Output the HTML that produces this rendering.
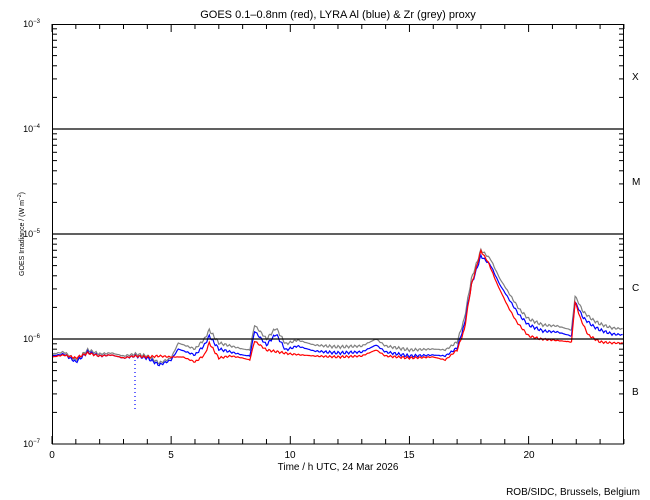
<!DOCTYPE html>
<html><head><style>body{margin:0;background:#fff}svg{display:block}text{font-family:"Liberation Sans",sans-serif;fill:#000}</style></head>
<body>
<svg id="s" width="650" height="500" xmlns="http://www.w3.org/2000/svg">
<rect width="650" height="500" fill="#fff"/>
<text x="338" y="18" font-size="11" text-anchor="middle">GOES 0.1–0.8nm (red), LYRA Al (blue) &amp; Zr (grey) proxy</text>
<g id="ax" stroke="#000" stroke-width="1" fill="none"></g>
<g id="data" fill="none" stroke-width="1.2"></g>
<rect x="52.5" y="24.5" width="571" height="419.5" fill="none" stroke="#000"/>
<line x1="52" y1="129" x2="624" y2="129" stroke="#000" stroke-width="1.3"/>
<line x1="52" y1="234" x2="624" y2="234" stroke="#000" stroke-width="1.3"/>
<line x1="52" y1="339" x2="624" y2="339" stroke="#000" stroke-width="1.3"/>
<g font-size="9">
<text x="40" y="27" text-anchor="end">10<tspan font-size="6" dy="-4">−3</tspan></text>
<text x="40" y="132" text-anchor="end">10<tspan font-size="6" dy="-4">−4</tspan></text>
<text x="40" y="237" text-anchor="end">10<tspan font-size="6" dy="-4">−5</tspan></text>
<text x="40" y="342" text-anchor="end">10<tspan font-size="6" dy="-4">−6</tspan></text>
<text x="40" y="447" text-anchor="end">10<tspan font-size="6" dy="-4">−7</tspan></text>
</g>
<g font-size="10">
<text x="632" y="80">X</text><text x="632" y="185">M</text><text x="632" y="291">C</text><text x="632" y="395">B</text>
<text x="52" y="458" text-anchor="middle">0</text><text x="171" y="458" text-anchor="middle">5</text>
<text x="290" y="458" text-anchor="middle">10</text><text x="409" y="458" text-anchor="middle">15</text>
<text x="529" y="458" text-anchor="middle">20</text>
<text x="338" y="470" text-anchor="middle">Time / h UTC, 24 Mar 2026</text>
<text x="640" y="495" text-anchor="end">ROB/SIDC, Brussels, Belgium</text>
</g>
<text transform="translate(24,234) rotate(-90)" font-size="7" text-anchor="middle">GOES Irradiance / (W m<tspan font-size="5" dy="-3">−2</tspan><tspan dy="3">)</tspan></text>
</svg>
<script>
var ns="http://www.w3.org/2000/svg",ax=document.getElementById('ax'),dg=document.getElementById('data');
function L(x1,y1,x2,y2){var l=document.createElementNS(ns,'line');l.setAttribute('x1',x1);l.setAttribute('y1',y1);l.setAttribute('x2',x2);l.setAttribute('y2',y2);ax.appendChild(l);}
for(var d=0;d<4;d++){for(var k=1;k<10;k++){var y=444-105*d-105*Math.log10(k);if(k==1&&d==0)continue;var len=k==1?8:5;L(52,y,52+len,y);L(624,y,624-len,y);}}
for(var h=0;h<=24;h++){var x=52+h*23.83,len=h%5==0?8:5;L(x,444,x,444-len);L(x,24,x,24+len);}
var H=23.83;
function P(pts,col,jit){var s='';for(var i=0;i<pts.length-1;i++){var a=pts[i],b=pts[i+1];for(var t=a[0];t<b[0];t+=0.05){var f=(t-a[0])/(b[0]-a[0]);var y=a[1]+(b[1]-a[1])*f+(Math.sin(t*37)+Math.sin(t*91))*jit;s+=(52+t*H).toFixed(1)+','+y.toFixed(1)+' ';}}
var p=document.createElementNS(ns,'polyline');p.setAttribute('points',s);p.setAttribute('stroke',col);dg.appendChild(p);}
var red=[[0,357],[0.5,355],[1,358],[1.5,353],[2,356],[2.5,355],[3,358],[3.5,356],[4,357],[4.5,356],[5,357],[5.5,357],[6,362],[6.4,355],[6.6,343],[7,358],[7.5,356],[8,358],[8.3,360],[8.5,341],[9,350],[9.5,352],[10,354],[11,356],[12,357],[13,356],[13.6,350],[14,356],[15,358],[16,357],[16.5,360],[17,350],[17.3,330],[17.6,285],[18,251],[18.3,262],[18.7,285],[19.1,305],[19.5,322],[20,336],[20.5,339],[21,340],[21.8,342],[21.95,302],[22.2,320],[22.5,335],[23,342],[23.5,343],[24,343]];
var blue=[[0,356],[0.5,354],[1,362],[1.5,352],[2,356],[2.5,355],[3,358],[3.5,356],[4,358],[4.5,365],[5,360],[5.3,349],[6,355],[6.4,345],[6.6,336],[7,349],[7.5,352],[8,355],[8.3,356],[8.5,331],[9,345],[9.4,334],[9.8,350],[10.3,346],[11,351],[12,353],[13,352],[13.6,345],[14,352],[15,356],[16,355],[16.5,356],[17,348],[17.3,325],[17.6,285],[18,256],[18.4,265],[18.8,285],[19.2,300],[19.6,315],[20,325],[20.6,331],[21.2,332],[21.8,336],[21.95,302],[22.3,318],[22.7,326],[23,330],[23.5,334],[24,335]];
var grey=blue.map(function(p){return [p[0],p[1]-(p[0]>5?6:2)];});
P(grey,'#808080',0.8);P(blue,'#0000ff',0.8);P(red,'#ff0000',0.6);
var p=document.createElementNS(ns,'line');p.setAttribute('x1',135);p.setAttribute('y1',360);p.setAttribute('x2',135);p.setAttribute('y2',410);p.setAttribute('stroke','#0000ff');p.setAttribute('stroke-dasharray','1 3');dg.appendChild(p);
</script>
</body></html>
